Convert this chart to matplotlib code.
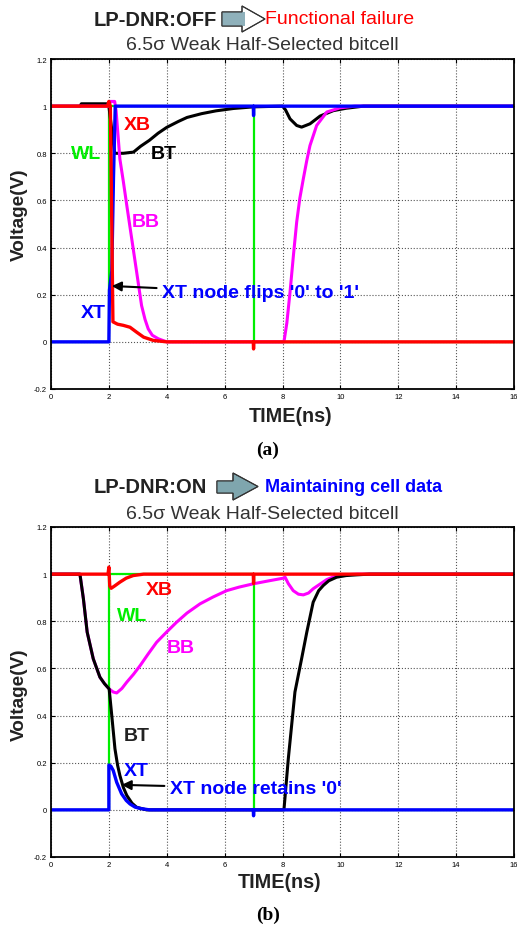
import matplotlib
matplotlib.use("Agg")
import matplotlib.pyplot as plt
from matplotlib.patches import Polygon

W, H = 517, 929

# ---- panel (a): LP-DNR off ----
t_wl_a = [0, 2.0, 2.0, 7.0, 7.0, 16]
v_wl_a = [0, 0, 1, 1, 0, 0]

t_bt_a = [0, 1.0, 1.05, 1.95, 2.0, 2.1, 2.2, 2.5, 2.85, 3.1, 3.4, 3.7, 4.0, 4.4, 4.7, 5.2, 5.7, 6.3, 7.0,
          8.0, 8.1, 8.26, 8.49, 8.66, 8.95, 9.3, 9.76, 10.2, 10.8, 16]
v_bt_a = [1, 1, 1.01, 1.01, 1.0, 0.9, 0.8, 0.8, 0.805, 0.83, 0.855, 0.885, 0.91, 0.935, 0.952, 0.968, 0.98, 0.99, 0.997,
          1.0, 0.985, 0.946, 0.918, 0.911, 0.925, 0.958, 0.981, 0.991, 1.0, 1.0]

t_bb_a = [0, 2.0, 2.05, 2.2, 2.25, 2.38, 2.5, 2.62, 2.79, 2.96, 3.13, 3.25, 3.36, 3.5, 3.71, 4.0,
          8.05, 8.15, 8.26, 8.38, 8.49, 8.6, 8.72, 8.84, 8.95, 9.18, 9.53, 9.99, 10.5, 16]
v_bb_a = [1, 1, 1.02, 1.02, 0.98, 0.776, 0.68, 0.578, 0.437, 0.296, 0.154, 0.095, 0.055, 0.028, 0.013, 0,
          0, 0.08, 0.211, 0.37, 0.508, 0.61, 0.692, 0.77, 0.833, 0.918, 0.975, 0.993, 1.0, 1.0]

t_xt_a = [0, 2.0, 2.02, 2.1, 2.16, 2.22, 6.99, 7.0, 7.01, 16]
v_xt_a = [0, 0, 0.22, 0.3, 0.7, 1.0, 1.0, 0.96, 1.0, 1.0]

t_xb_a = [0, 1.95, 2.0, 2.05, 2.1, 2.14, 2.3, 2.5, 2.73, 2.96, 3.2, 3.54, 4.0, 6.99, 7.0, 7.01, 16]
v_xb_a = [1, 1, 1.02, 1.0, 0.5, 0.085, 0.075, 0.07, 0.062, 0.041, 0.02, 0.006, 0, 0, -0.03, 0, 0]

# ---- panel (b): LP-DNR on ----
t_wl_b = [0, 2.0, 2.0, 7.0, 7.0, 16]
v_wl_b = [0, 0, 1, 1, 0, 0]

t_bb_b = [0, 1.0, 1.12, 1.25, 1.46, 1.69, 1.85, 2.01, 2.15, 2.27, 2.45, 2.62, 2.85, 3.08, 3.35, 3.65, 4.0, 4.34,
          4.7, 5.15, 5.6, 6.07, 6.5, 6.99, 7.5, 8.03, 8.09, 8.2, 8.37, 8.55, 8.72, 8.9, 9.06, 9.3, 9.53, 9.8,
          10.1, 10.6, 16]
v_bb_b = [1, 1, 0.895, 0.754, 0.641, 0.563, 0.535, 0.513, 0.5, 0.496, 0.515, 0.542, 0.575, 0.612, 0.66, 0.711,
          0.755, 0.796, 0.835, 0.874, 0.903, 0.93, 0.945, 0.959, 0.971, 0.983, 0.987, 0.96, 0.93, 0.915, 0.912,
          0.92, 0.938, 0.958, 0.977, 0.99, 0.997, 1.0, 1.0]

t_bt_b = [0, 1.0, 1.12, 1.25, 1.46, 1.69, 1.85, 2.01, 2.1, 2.21, 2.3, 2.38, 2.5, 2.62, 2.8, 2.96, 3.3,
          8.05, 8.2, 8.43, 8.66, 8.84, 9.06, 9.25, 9.41, 9.6, 9.87, 10.2, 10.56, 11.0, 16]
v_bt_b = [1, 1, 0.895, 0.754, 0.641, 0.563, 0.535, 0.513, 0.4, 0.259, 0.19, 0.146, 0.095, 0.061, 0.028, 0.011, 0,
          0, 0.216, 0.5, 0.641, 0.754, 0.881, 0.93, 0.952, 0.972, 0.987, 0.994, 0.997, 1.0, 1.0]

t_xt_b = [0, 2.0, 2.0, 2.07, 2.15, 2.27, 2.44, 2.6, 2.73, 2.9, 3.08, 3.4, 6.99, 7.0, 7.01, 16]
v_xt_b = [0, 0, 0.19, 0.185, 0.167, 0.117, 0.068, 0.04, 0.025, 0.012, 0.006, 0, 0, -0.025, 0, 0]

t_xb_b = [0, 1.97, 2.0, 2.03, 2.08, 2.2, 2.38, 2.6, 2.84, 3.2, 6.99, 7.0, 7.01, 16]
v_xb_b = [1, 1, 1.03, 0.95, 0.94, 0.95, 0.966, 0.983, 0.994, 1.0, 1.0, 0.96, 1.0, 1.0]

x_ticks = [0, 2, 4, 6, 8, 10, 12, 14, 16]
y_ticks = [-0.2, 0, 0.2, 0.4, 0.6, 0.8, 1.0, 1.2]
y_tick_labels = ['-0.2', '0', '0.2', '0.4', '0.6', '0.8', '1', '1.2']

GREEN = '#00ee00'
MAGENTA = '#ff00ff'
BLUE = '#0000ff'
RED = '#ff0000'
LABEL_SIZE = 14

plt.rcParams['font.family'] = ['Liberation Sans', 'DejaVu Sans']

fig = plt.figure(figsize=(W / 100, H / 100), dpi=100)


def fx(x):
    return x / W


def fy(y):
    return 1 - y / H


def setup_axes(top_px):
    ax = fig.add_axes([fx(51), fy(top_px + 330), 463 / W, 330 / H])
    ax.set_xlim(0, 16)
    ax.set_ylim(-0.2, 1.2)
    ax.set_xticks(x_ticks)
    ax.set_xticklabels([str(v) for v in x_ticks])
    ax.set_yticks(y_ticks)
    ax.set_yticklabels(y_tick_labels)
    ax.tick_params(direction='in', top=True, right=True, length=3, width=0.8, labelsize=5.5, pad=3)
    ax.grid(True, linestyle=':', color='#555555', linewidth=0.8)
    for s in ax.spines.values():
        s.set_linewidth(1.3)
    return ax


def header_arrow(x0, x1, x2, yb0, yb1, yh0, yh1, body_color, head_color):
    ym = (yh0 + yh1) / 2
    outline = [(x0, yb0), (x1, yb0), (x1, yh0), (x2, ym), (x1, yh1), (x1, yb1), (x0, yb1)]
    fig.add_artist(Polygon([(fx(a), fy(b)) for a, b in outline], closed=True, transform=fig.transFigure,
                           facecolor=head_color, edgecolor='#333333', linewidth=0.8))
    body = [(x0, yb0), (x1 + 3, yb0), (x1 + 3, yb1), (x0, yb1)]
    fig.add_artist(Polygon([(fx(a), fy(b)) for a, b in body], closed=True, transform=fig.transFigure,
                           facecolor=body_color, edgecolor='none'))
    fig.add_artist(Polygon([(fx(a), fy(b)) for a, b in outline], closed=True, transform=fig.transFigure,
                           facecolor='none', edgecolor='#333333', linewidth=0.8))


# ---------- panel (a) ----------
ax = setup_axes(60)
ax.plot(t_wl_a, v_wl_a, color=GREEN, lw=1.6)
ax.plot(t_bt_a, v_bt_a, color='black', lw=2.2)
ax.plot(t_bb_a, v_bb_a, color=MAGENTA, lw=2.2)
ax.plot(t_xt_a, v_xt_a, color=BLUE, lw=2.4)
ax.plot(t_xb_a, v_xb_a, color=RED, lw=2.4)

ax.text(2.52, 0.92, 'XB', color=RED, fontsize=LABEL_SIZE, fontweight='bold', va='center')
ax.text(0.69, 0.80, 'WL', color=GREEN, fontsize=LABEL_SIZE, fontweight='bold', va='center')
ax.text(3.46, 0.80, 'BT', color='black', fontsize=LABEL_SIZE, fontweight='bold', va='center')
ax.text(2.79, 0.51, 'BB', color=MAGENTA, fontsize=LABEL_SIZE, fontweight='bold', va='center')
ax.text(1.03, 0.126, 'XT', color=BLUE, fontsize=LABEL_SIZE, fontweight='bold', va='center')
ax.annotate("XT node flips '0' to '1'", xy=(2.1, 0.237), xytext=(3.84, 0.208),
            color=BLUE, fontsize=LABEL_SIZE, fontweight='bold', va='center', ha='left',
            arrowprops=dict(arrowstyle='-|>', color='black', lw=1.5, mutation_scale=14, shrinkA=2, shrinkB=0))

fig.text(fx(94), fy(20), 'LP-DNR:OFF', fontsize=14.5, fontweight='bold', color='#222222', va='center')
header_arrow(222, 242, 265, 13, 27, 7, 33, '#8fb1bb', 'white')
fig.text(fx(265), fy(20), 'Functional failure', fontsize=14, color=RED, va='center')
fig.text(fx(262), fy(45), '6.5σ Weak Half-Selected bitcell', fontsize=14, color='#333333', va='center', ha='center')
fig.text(fx(19), fy(215), 'Voltage(V)', fontsize=13.7, fontweight='bold', color='#222222',
         rotation=90, va='center', ha='center')
fig.text(fx(291), fy(417), 'TIME(ns)', fontsize=14.2, fontweight='bold', color='#222222', va='center', ha='center')
fig.text(fx(268), fy(450), '(a)', fontsize=14, fontweight='bold', family='Liberation Serif',
         va='center', ha='center')

# ---------- panel (b) ----------
ax = setup_axes(528)
ax.plot(t_wl_b, v_wl_b, color=GREEN, lw=1.6)
ax.plot(t_bb_b, v_bb_b, color=MAGENTA, lw=2.2)
ax.plot(t_bt_b, v_bt_b, color='black', lw=2.2)
ax.plot(t_xt_b, v_xt_b, color=BLUE, lw=2.4)
ax.plot(t_xb_b, v_xb_b, color=RED, lw=2.4)

ax.text(3.27, 0.935, 'XB', color=RED, fontsize=LABEL_SIZE, fontweight='bold', va='center')
ax.text(2.27, 0.824, 'WL', color=GREEN, fontsize=LABEL_SIZE, fontweight='bold', va='center')
ax.text(4.0, 0.69, 'BB', color=MAGENTA, fontsize=LABEL_SIZE, fontweight='bold', va='center')
ax.text(2.52, 0.315, 'BT', color='#222222', fontsize=LABEL_SIZE, fontweight='bold', va='center')
ax.text(2.52, 0.167, 'XT', color=BLUE, fontsize=LABEL_SIZE, fontweight='bold', va='center')
ax.annotate("XT node retains '0'", xy=(2.44, 0.106), xytext=(4.11, 0.092),
            color=BLUE, fontsize=LABEL_SIZE, fontweight='bold', va='center', ha='left',
            arrowprops=dict(arrowstyle='-|>', color='black', lw=1.5, mutation_scale=14, shrinkA=2, shrinkB=0))

fig.text(fx(94), fy(488), 'LP-DNR:ON', fontsize=14.5, fontweight='bold', color='#222222', va='center')
header_arrow(217, 233, 258, 482, 494, 474, 501, '#7fa6ae', '#7fa6ae')
fig.text(fx(265), fy(488), 'Maintaining cell data', fontsize=13, fontweight='bold', color=BLUE, va='center')
fig.text(fx(262), fy(515), '6.5σ Weak Half-Selected bitcell', fontsize=14, color='#333333', va='center', ha='center')
fig.text(fx(19), fy(695), 'Voltage(V)', fontsize=13.7, fontweight='bold', color='#222222',
         rotation=90, va='center', ha='center')
fig.text(fx(280), fy(882), 'TIME(ns)', fontsize=14.2, fontweight='bold', color='#222222', va='center', ha='center')
fig.text(fx(268), fy(915), '(b)', fontsize=14, fontweight='bold', family='Liberation Serif',
         va='center', ha='center')

fig.savefig('out.png', dpi=100)
